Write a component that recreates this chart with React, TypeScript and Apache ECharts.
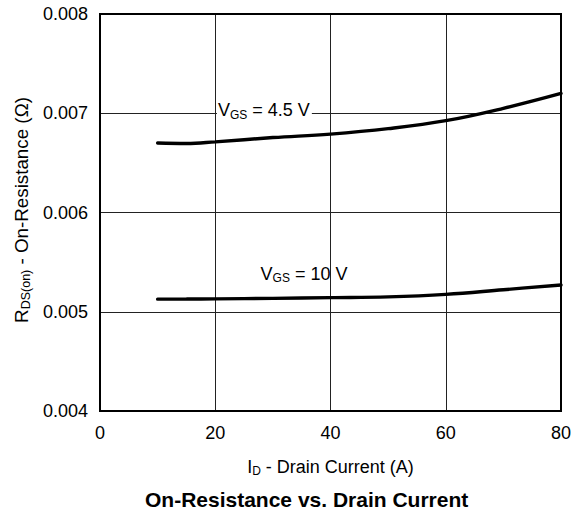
import React, { useEffect, useRef } from "react";
import * as echarts from "echarts";

const xTicks = [0, 20, 40, 60, 80];
const currentA = [10, 15, 20, 30, 40, 50, 60, 70, 80];
const vgs45 = [0.0067, 0.006695, 0.006712, 0.006755, 0.00679, 0.006845, 0.006925, 0.00705, 0.0072];
const vgs10 = [0.005127, 0.005128, 0.00513, 0.005135, 0.005142, 0.00515, 0.005175, 0.005222, 0.00527];
const labels = [
  { name: "4.5", at: [20.3, 0.00703], bg: "#ffffff" },
  { name: "10", at: [27.7, 0.005385], bg: "transparent" },
];

const FONT = "Liberation Sans, Arial, sans-serif";

export default function App() {
  const ref = useRef<HTMLDivElement>(null);
  useEffect(() => {
    if (!ref.current) return;
    const chart = echarts.init(ref.current, null, { renderer: "svg" });
    const sub = { fontSize: 12, fontFamily: FONT, color: "#000", padding: [9, 0, 0, 0] };
    const base = { fontSize: 18, fontFamily: FONT, color: "#000" };
    const yBase = { ...base, fontSize: 18.8 };
    const ySub = { ...sub, fontSize: 12.5 };
    const mkSeries = (data: number[], idx: number) => ({
      type: "line",
      smooth: 0.4,
      showSymbol: false,
      symbol: "none",
      lineStyle: { color: "#000", width: 3.4, cap: "round" },
      data: currentA.map((x, i) => [x, data[i]]),
      markPoint: {
        symbol: "circle",
        symbolSize: 0,
        data: [
          {
            coord: labels[idx].at,
            label: {
              show: true,
              position: "right",
              distance: 0,
              formatter: `{b|V}{s|GS}{b| = ${labels[idx].name} V}`,
              backgroundColor: labels[idx].bg,
              padding: [0, 2, 0, 1],
              rich: { b: base, s: sub },
            },
          },
        ],
      },
    });
    chart.setOption({
      animation: false,
      grid: { left: 100, right: 15, top: 14, bottom: 101 },
      xAxis: {
        type: "value",
        min: 0,
        max: 80,
        interval: 20,
        axisLine: { show: true, onZero: false, lineStyle: { color: "#000", width: 2 } },
        axisTick: { show: false },
        axisLabel: { color: "#000", fontSize: 18, fontFamily: FONT, margin: 13, customValues: xTicks },
        splitLine: { show: true, lineStyle: { color: "#222", width: 1 } },
        name: "{b|I}{s|D}{b| - Drain Current (A)}",
        nameLocation: "middle",
        nameGap: 45,
        nameTextStyle: { rich: { b: base, s: sub } },
      },
      yAxis: {
        type: "value",
        min: 0.004,
        max: 0.008,
        interval: 0.001,
        axisLine: { show: true, lineStyle: { color: "#000", width: 2 } },
        axisTick: { show: false },
        axisLabel: {
          color: "#000",
          fontSize: 18,
          fontFamily: FONT,
          margin: 12,
          formatter: (v: number) => v.toFixed(3),
        },
        splitLine: { show: true, lineStyle: { color: "#222", width: 1 } },
        name: "{b|R}{s|DS(on)}{b| - On-Resistance (Ω)}",
        nameLocation: "middle",
        nameGap: 60,
        nameTextStyle: { padding: [0, 0, 0, 5], rich: { b: yBase, s: ySub } },
      },
      graphic: [
        {
          type: "rect",
          shape: { x: 100, y: 14, width: 461, height: 397 },
          style: { fill: "none", stroke: "#000", lineWidth: 2 },
          z: 100,
        },
        {
          type: "text",
          x: 145,
          y: 499,
          style: {
            text: "On-Resistance vs. Drain Current",
            textAlign: "left",
            textVerticalAlign: "middle",
            font: `bold 21px ${FONT}`,
            fill: "#000",
          },
        },
      ],
      series: [mkSeries(vgs45, 0), mkSeries(vgs10, 1)],
    });
    return () => chart.dispose();
  }, []);
  return (
    <div
      ref={ref}
      style={{ position: "fixed", left: 0, top: 0, width: 576, height: 512, background: "#fff" }}
    />
  );
}
